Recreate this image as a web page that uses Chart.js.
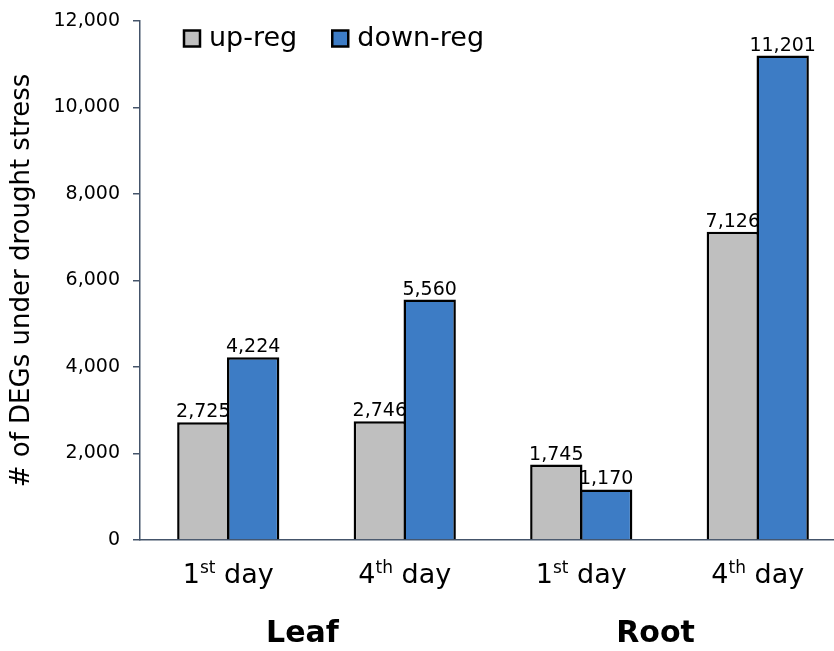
<!DOCTYPE html>
<html>
<head>
<meta charset="utf-8">
<script src="https://cdn.jsdelivr.net/npm/chart.js@4/dist/chart.umd.min.js"></script>
<style>
  html, body { margin: 0; padding: 0; background: #fff; overflow: hidden; }
  #wrap { position: relative; width: 846px; height: 651px; }
</style>
</head>
<body>
<div id="wrap"><canvas id="c"></canvas></div>
<script>
// Category labels: day number, ordinal suffix (superscript), tissue group
const dayNumbers = ['1', '4', '1', '4'];
const daySuffixes = ['st', 'th', 'st', 'th'];
const tissues = ['Leaf', 'Leaf', 'Root', 'Root'];

// Number of differentially expressed genes
const upReg = [2725, 2746, 1745, 7126];
const downReg = [4224, 5560, 1170, 11201];

// Y axis
const yTicks = [0, 2000, 4000, 6000, 8000, 10000, 12000];
const yTitle = '# of DEGs under drought stress';
const seriesNames = ['up-reg', 'down-reg'];

const FONT = "'DejaVu Sans', Verdana, sans-serif";
const AXIS = '#44546a';
const fmt = v => Number(v).toLocaleString('en-US');

// Values above each bar
const valueLabels = {
  id: 'valueLabels',
  afterDatasetsDraw(chart) {
    const ctx = chart.ctx;
    ctx.save();
    ctx.font = '19px ' + FONT;
    ctx.fillStyle = '#000';
    ctx.textAlign = 'center';
    ctx.textBaseline = 'alphabetic';
    chart.data.datasets.forEach((ds, di) => {
      chart.getDatasetMeta(di).data.forEach((bar, i) => {
        ctx.fillText(fmt(ds.data[i]), bar.x, bar.y - 5);
      });
    });
    ctx.restore();
  }
};

// Category labels with superscript ordinals, and tissue group names
const categoryLabels = {
  id: 'categoryLabels',
  afterDraw(chart) {
    const ctx = chart.ctx;
    const xs = chart.scales.x;
    const mainFont = '27px ' + FONT;
    const supFont = '17px ' + FONT;
    const base = 583;
    ctx.save();
    ctx.fillStyle = '#000';
    ctx.textBaseline = 'alphabetic';
    ctx.textAlign = 'left';
    dayNumbers.forEach((num, i) => {
      const cx = xs.getPixelForValue(i);
      ctx.font = mainFont;
      const wNum = ctx.measureText(num).width;
      const tail = ' day';
      const wTail = ctx.measureText(tail).width;
      ctx.font = supFont;
      const wSup = ctx.measureText(daySuffixes[i]).width;
      let x = cx - (wNum + wSup + wTail) / 2;
      ctx.font = mainFont;
      ctx.fillText(num, x, base);
      x += wNum;
      ctx.font = supFont;
      ctx.fillText(daySuffixes[i], x, base - 10);
      x += wSup;
      ctx.font = mainFont;
      ctx.fillText(tail, x, base);
    });
    // group names centred under each pair of categories
    ctx.font = 'bold 30px ' + FONT;
    ctx.textAlign = 'center';
    const groups = [];
    tissues.forEach((t, i) => {
      const g = groups.find(g => g.name === t);
      if (g) g.idx.push(i); else groups.push({ name: t, idx: [i] });
    });
    groups.forEach(g => {
      const a = xs.getPixelForValue(g.idx[0]);
      const b = xs.getPixelForValue(g.idx[g.idx.length - 1]);
      ctx.fillText(g.name, (a + b) / 2 - 14, 642);
    });
    ctx.restore();
  }
};

// Legend inside the plot area, top left
const insideLegend = {
  id: 'insideLegend',
  afterDraw(chart) {
    const ctx = chart.ctx;
    ctx.save();
    ctx.font = '27px ' + FONT;
    ctx.textBaseline = 'middle';
    ctx.textAlign = 'left';
    let x = 184;
    const y = 38.5;
    chart.data.datasets.forEach(ds => {
      ctx.fillStyle = ds.backgroundColor;
      ctx.fillRect(x, y - 8, 16, 16);
      ctx.lineWidth = 2.5;
      ctx.strokeStyle = '#000';
      ctx.strokeRect(x, y - 8, 16, 16);
      ctx.fillStyle = '#000';
      ctx.fillText(ds.label, x + 25, y);
      x += 25 + ctx.measureText(ds.label).width + 35;
    });
    ctx.restore();
  }
};

new Chart(document.getElementById('c'), {
  type: 'bar',
  data: {
    labels: dayNumbers.map((n, i) => n + daySuffixes[i] + ' day'),
    datasets: [
      { label: seriesNames[0], data: upReg, backgroundColor: '#bfbfbf',
        borderColor: '#000', borderWidth: 2.5 },
      { label: seriesNames[1], data: downReg, backgroundColor: '#3d7cc5',
        borderColor: '#000', borderWidth: 2.5 }
    ]
  },
  options: {
    responsive: true,
    maintainAspectRatio: false,
    animation: false,
    layout: { padding: { top: 21, right: 0, bottom: 0, left: 0 } },
    datasets: { bar: { barPercentage: 1.05, categoryPercentage: 0.565 } },
    plugins: { legend: { display: false }, tooltip: { enabled: false } },
    scales: {
      x: {
        ticks: { display: false },
        grid: { display: true, drawOnChartArea: false, drawTicks: false },
        border: { display: true, color: AXIS, width: 1.5 },
        afterFit(s) { s.height = 111; }
      },
      y: {
        min: 0,
        max: 12000,
        afterBuildTicks(s) { s.ticks = yTicks.map(v => ({ value: v })); },
        ticks: {
          callback: v => fmt(v),
          font: { family: FONT, size: 19 },
          color: '#000',
          padding: 13
        },
        grid: { drawOnChartArea: false, drawTicks: true, tickLength: 7, color: AXIS, lineWidth: 1.5 },
        border: { display: true, color: AXIS, width: 1.5 },
        title: {
          display: true,
          text: yTitle,
          font: { family: FONT, size: 26 },
          color: '#000',
          padding: { top: 7, bottom: 0 }
        },
        afterFit(s) { s.width = 140; s.paddingTop = 0; s.paddingBottom = 0; }
      }
    }
  },
  plugins: [valueLabels, categoryLabels, insideLegend]
});
</script>
</body>
</html>
